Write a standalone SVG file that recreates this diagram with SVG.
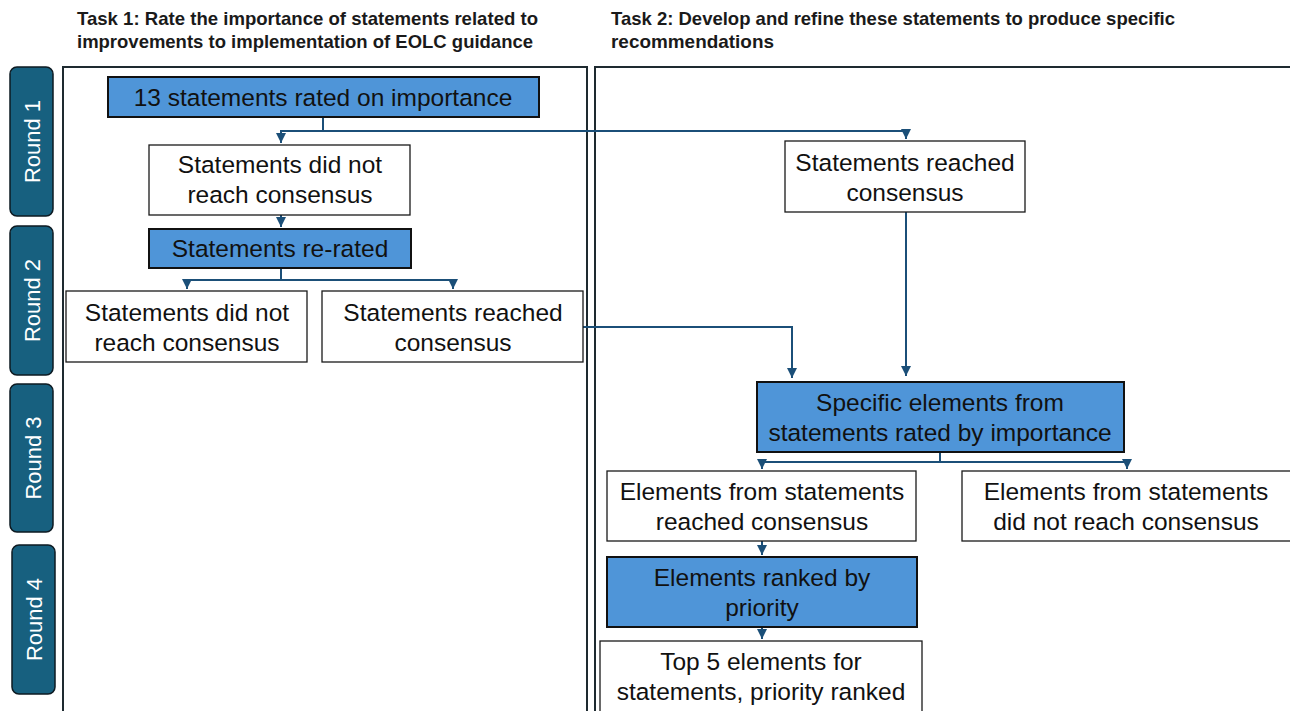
<svg xmlns="http://www.w3.org/2000/svg" width="1290" height="711" viewBox="0 0 1290 711">
<defs>
<style>
.title{font-family:"Liberation Sans",Arial,sans-serif;font-weight:bold;font-size:18.5px;fill:#1a1a1a}
.panel{fill:none;stroke:#1e2a30;stroke-width:2}
.tab{fill:#17607f;stroke:#0d1a22;stroke-width:1.5}
.tabt{font-family:"Liberation Sans",Arial,sans-serif;font-size:22px;fill:#ffffff;text-anchor:middle}
.wbox{fill:#ffffff;stroke:#1a1a1a;stroke-width:1.3}
.bbox{fill:#4f95d8;stroke:#111111;stroke-width:2}
.nt{font-family:"Liberation Sans",Arial,sans-serif;font-size:24.5px;fill:#111111;text-anchor:middle}
.con{fill:none;stroke:#1b4f78;stroke-width:2}
</style>
<marker id="ah" viewBox="0 0 10 10" refX="10" refY="5" markerWidth="5" markerHeight="5" orient="auto" markerUnits="strokeWidth">
<path d="M0,0 L10,5 L0,10 z" fill="#1b4f78"/>
</marker>
</defs>

<g id="titles">
<text class="title" x="77" y="25" textLength="461" lengthAdjust="spacingAndGlyphs">Task 1: Rate the importance of statements related to</text>
<text class="title" x="77" y="48" textLength="456" lengthAdjust="spacingAndGlyphs">improvements to implementation of EOLC guidance</text>
<text class="title" x="611" y="25" textLength="564" lengthAdjust="spacingAndGlyphs">Task 2: Develop and refine these statements to produce specific</text>
<text class="title" x="611" y="48" textLength="163" lengthAdjust="spacingAndGlyphs">recommendations</text>
</g>

<g id="panels">
<rect class="panel" x="63" y="67" width="524" height="660"/>
<rect class="panel" x="595" y="67" width="710" height="660"/>
</g>

<g id="round1"><rect class="tab" x="10" y="67" width="43" height="149" rx="7"/><text class="tabt" transform="translate(39.5,141.5) rotate(-90)">Round 1</text></g>
<g id="round2"><rect class="tab" x="10" y="226" width="43" height="149" rx="7"/><text class="tabt" transform="translate(39.5,300.5) rotate(-90)">Round 2</text></g>
<g id="round3"><rect class="tab" x="10" y="384" width="43" height="148" rx="7"/><text class="tabt" transform="translate(40.5,458) rotate(-90)">Round 3</text></g>
<g id="round4"><rect class="tab" x="12" y="545" width="43" height="149" rx="7"/><text class="tabt" transform="translate(41.5,619.5) rotate(-90)">Round 4</text></g>

<g id="connectors">
<path class="con" d="M323,117 V131 H281 V143" marker-end="url(#ah)"/>
<path class="con" d="M323,131 H906 V139" marker-end="url(#ah)"/>
<path class="con" d="M281,215 V227" marker-end="url(#ah)"/>
<path class="con" d="M281,268 V280 H187 V289" marker-end="url(#ah)"/>
<path class="con" d="M281,280 H453 V289" marker-end="url(#ah)"/>
<path class="con" d="M583,327 H792 V378" marker-end="url(#ah)"/>
<path class="con" d="M906,212 V376" marker-end="url(#ah)"/>
<path class="con" d="M940,452 V462 H762 V469" marker-end="url(#ah)"/>
<path class="con" d="M940,462 H1127 V469" marker-end="url(#ah)"/>
<path class="con" d="M762,541 V555" marker-end="url(#ah)"/>
<path class="con" d="M762,627 V639" marker-end="url(#ah)"/>
</g>

<g id="n1"><rect class="bbox" x="108" y="77" width="431" height="40"/><text class="nt" x="323" y="106">13 statements rated on importance</text></g>
<g id="n2"><rect class="wbox" x="149" y="145" width="261" height="70"/><text class="nt" x="280" y="173">Statements did not</text><text class="nt" x="280" y="203">reach consensus</text></g>
<g id="n3"><rect class="bbox" x="149" y="229" width="262" height="39"/><text class="nt" x="280" y="257">Statements re-rated</text></g>
<g id="n4"><rect class="wbox" x="66" y="291" width="241" height="71"/><text class="nt" x="187" y="321">Statements did not</text><text class="nt" x="187" y="351">reach consensus</text></g>
<g id="n5"><rect class="wbox" x="322" y="291" width="261" height="71"/><text class="nt" x="453" y="321">Statements reached</text><text class="nt" x="453" y="351">consensus</text></g>
<g id="n6"><rect class="wbox" x="785" y="141" width="240" height="71"/><text class="nt" x="905" y="171">Statements reached</text><text class="nt" x="905" y="201">consensus</text></g>
<g id="n7"><rect class="bbox" x="757" y="382" width="367" height="70"/><text class="nt" x="940" y="411">Specific elements from</text><text class="nt" x="940" y="441">statements rated by importance</text></g>
<g id="n8"><rect class="wbox" x="607" y="471" width="309" height="70"/><text class="nt" x="762" y="500">Elements from statements</text><text class="nt" x="762" y="530">reached consensus</text></g>
<g id="n9"><rect class="wbox" x="962" y="471" width="340" height="70"/><text class="nt" x="1126" y="500">Elements from statements</text><text class="nt" x="1126" y="530">did not reach consensus</text></g>
<g id="n10"><rect class="bbox" x="607" y="557" width="310" height="70"/><text class="nt" x="762" y="586">Elements ranked by</text><text class="nt" x="762" y="616">priority</text></g>
<g id="n11"><rect class="wbox" x="600" y="641" width="322" height="90"/><text class="nt" x="761" y="670">Top 5 elements for</text><text class="nt" x="761" y="700">statements, priority ranked</text></g>
</svg>
